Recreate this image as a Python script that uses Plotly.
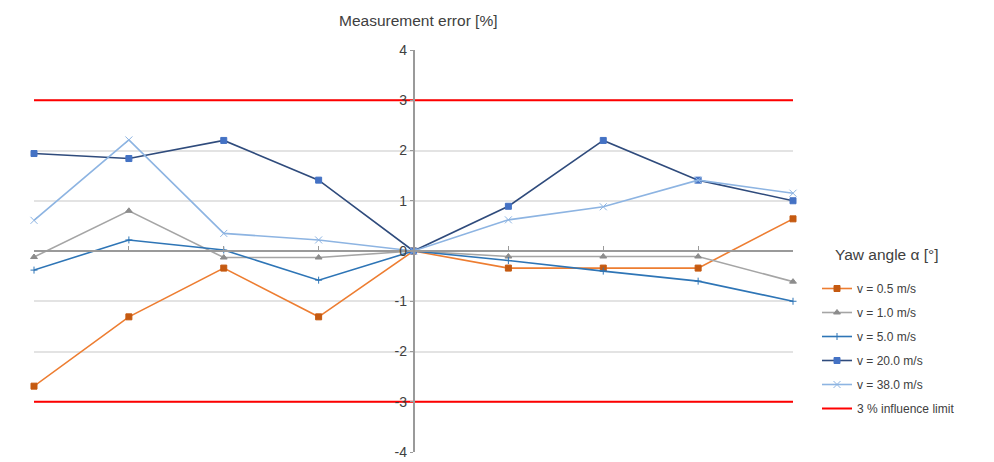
import plotly.graph_objects as go

# Yaw angle categories (no labels shown in the chart)
angles = [0, 1, 2, 3, 4, 5, 6, 7, 8]

v_0_5 = [-2.69, -1.31, -0.34, -1.31, 0.0, -0.34, -0.34, -0.34, 0.64]
v_1_0 = [-0.12, 0.80, -0.13, -0.13, 0.0, -0.11, -0.11, -0.11, -0.61]
v_5_0 = [-0.38, 0.22, 0.02, -0.58, 0.0, -0.19, -0.40, -0.60, -1.00]
v_20_0 = [1.94, 1.84, 2.20, 1.41, 0.0, 0.89, 2.20, 1.41, 1.00]
v_38_0 = [0.61, 2.21, 0.35, 0.22, 0.0, 0.62, 0.88, 1.41, 1.15]
limit = 3

y_tickvals = [-4, -3, -2, -1, 0, 1, 2, 3, 4]
y_ticktext = ["-4", "-3", "-2", "-1", "0", "1", "2", "3", "4"]

series = [
    ("v = 0.5 m/s", v_0_5, "#ED7D31", "#C55A11", "square", 6),
    ("v = 1.0 m/s", v_1_0, "#A5A5A5", "#8C8C8C", "triangle-up", 6),
    ("v = 5.0 m/s", v_5_0, "#2E75B6", "#2E75B6", "cross-thin-open", 5),
    ("v = 20.0 m/s", v_20_0, "#2F4B7C", "#4472C4", "square", 6),
    ("v = 38.0 m/s", v_38_0, "#8DB4E2", "#8DB4E2", "x-thin-open", 7),
]

fig = go.Figure()

for i, (name, vals, lc, mc, sym, ms) in enumerate(series):
    fig.add_trace(go.Scatter(
        x=angles, y=vals, mode="lines+markers", name=name,
        line=dict(color=lc, width=1.6),
        marker=dict(symbol=sym, size=ms, color=mc, line=dict(color=mc, width=1)),
        cliponaxis=False, legendgroup=f"g{i}",
    ))

fig.add_trace(go.Scatter(
    x=[angles[0], angles[-1], None, angles[0], angles[-1]],
    y=[limit, limit, None, -limit, -limit],
    mode="lines", name="3 % influence limit",
    line=dict(color="#FF0000", width=2), legendgroup="lim",
))

fig.update_layout(
    width=994, height=462,
    margin=dict(l=26, r=209, t=42, b=18),
    paper_bgcolor="white", plot_bgcolor="white",
    font=dict(family="Liberation Sans, Arial, sans-serif", color="#404040"),
    showlegend=True,
    legend=dict(
        x=(817 - 34) / 759, y=(452 - 274) / 402, xanchor="left", yanchor="top",
        font=dict(size=12, color="#404040"),
        traceorder="grouped", tracegroupgap=5,
        bgcolor="rgba(0,0,0,0)",
    ),
    xaxis=dict(
        range=[0, 8], tickmode="linear", tick0=0, dtick=1,
        showgrid=False, zeroline=False, automargin=False,
        anchor="free", position=0.5,
        showline=True, linecolor="#9a9a9a", linewidth=1.5,
        ticks="inside", ticklen=4, tickcolor="#9a9a9a",
        showticklabels=False,
    ),
    yaxis=dict(
        range=[-4, 4], tickmode="array", tickvals=y_tickvals, ticktext=y_ticktext,
        showgrid=True, gridcolor="#e3e3e3", gridwidth=1.5,
        zeroline=False, automargin=False,
        anchor="free", position=0.5,
        showline=True, linecolor="#9a9a9a", linewidth=1.5,
        ticks="outside", ticklen=3, tickcolor="#9a9a9a",
        tickfont=dict(size=14, color="#404040"),
    ),
    annotations=[
        dict(
            text="Measurement error [%]", x=(418 - 34) / 759, y=(452 - 20) / 402,
            xref="paper", yref="paper",
            xanchor="center", yanchor="middle", showarrow=False,
            font=dict(size=15.5, color="#404040"),
        ),
        dict(
            text="Yaw angle α [°]", x=(833 - 34) / 759, y=(452 - 254) / 402,
            xref="paper", yref="paper",
            xanchor="left", yanchor="middle", showarrow=False,
            font=dict(size=15.5, color="#404040"),
        ),
    ],
)

fig.write_html("out.html")
